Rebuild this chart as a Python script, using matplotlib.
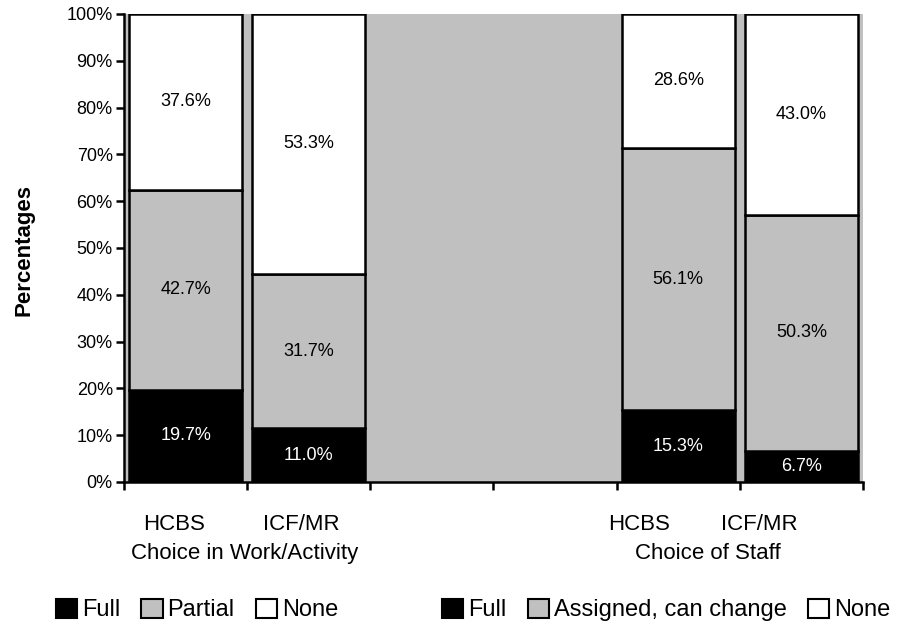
import matplotlib
matplotlib.use("Agg")
import matplotlib.pyplot as plt
from matplotlib.patches import Patch
import numpy as np

plt.rcParams['font.family'] = ['Liberation Sans', 'DejaVu Sans']

# dados (valores em %)
slots = [0, 1, 4, 5]
sites = ["HCBS", "ICF/MR", "HCBS", "ICF/MR"]
groups = ["Choice in Work/Activity", "Choice of Staff"]
full = [19.7, 11.0, 15.3, 6.7]
partial = [42.7, 31.7, 56.1, 50.3]
none = [37.6, 53.3, 28.6, 43.0]
legend_left = ["Full", "Partial", "None"]
legend_right = ["Full", "Assigned, can change", "None"]
yticks = [0, 10, 20, 30, 40, 50, 60, 70, 80, 90, 100]

black = "#000000"
gray = "#c0c0c0"
white = "#ffffff"

# barras 100% empilhadas
total = np.array(full) + np.array(partial) + np.array(none)
f_n = np.array(full) / total * 100
p_n = np.array(partial) / total * 100
n_n = np.array(none) / total * 100

fig = plt.figure(figsize=(9.03, 6.24), dpi=100)
ax = fig.add_axes([0.1373, 0.2276, 0.8184, 0.75])
ax.set_facecolor(gray)

w = 0.92
ax.bar(slots, f_n, w, color=black, edgecolor=black, linewidth=1.8)
ax.bar(slots, p_n, w, bottom=f_n, color=gray, edgecolor=black, linewidth=1.8)
ax.bar(slots, n_n, w, bottom=f_n + p_n, color=white, edgecolor=black, linewidth=1.8)

for i, x in enumerate(slots):
    ax.text(x, f_n[i] / 2, f"{full[i]:.1f}%", ha="center", va="center",
            color="white", fontsize=13)
    ax.text(x, f_n[i] + p_n[i] / 2, f"{partial[i]:.1f}%", ha="center", va="center",
            color="black", fontsize=13)
    ax.text(x, f_n[i] + p_n[i] + n_n[i] / 2, f"{none[i]:.1f}%", ha="center",
            va="center", color="black", fontsize=13)

ax.set_xlim(-0.5, 5.5)
ax.set_ylim(0, 100)
ax.set_yticks(yticks)
ax.set_yticklabels([f"{t}%" for t in yticks], fontsize=13)
ax.set_xticks(np.arange(-0.5, 6, 1))
ax.set_xticklabels([])
ax.tick_params(axis="both", direction="out", length=6, width=1.8, color="black")
ax.tick_params(axis="y", pad=2)

for s in ["top", "right"]:
    ax.spines[s].set_visible(False)
for s in ["left", "bottom"]:
    ax.spines[s].set_linewidth(1.8)

# rótulos das categorias
trans = ax.get_xaxis_transform()
site_x = [-0.09, 0.94, 3.68, 4.66]
for x, s in zip(site_x, sites):
    ax.text(x, -0.09, s, transform=trans, ha="center", va="center", fontsize=16)
for x, g in zip([0.48, 4.24], groups):
    ax.text(x, -0.152, g, transform=trans, ha="center", va="center", fontsize=16)

fig.text(24 / 903, 0.6, "Percentages", rotation=90, ha="center", va="center",
         fontsize=16, fontweight="bold")

def make_handles(labels):
    cols = [black, gray, white]
    return [Patch(facecolor=c, edgecolor="black", linewidth=1.5, label=l)
            for c, l in zip(cols, labels)]

leg_kw = dict(ncol=3, frameon=False, fontsize=17, handlelength=0.9,
              handleheight=0.85, handletextpad=0.2, columnspacing=0.9,
              borderpad=0.1, borderaxespad=0)
fig.legend(handles=make_handles(legend_left), loc="center",
           bbox_to_anchor=(197 / 903, 1 - 610 / 624), **leg_kw)
fig.legend(handles=make_handles(legend_right), loc="center",
           bbox_to_anchor=(666 / 903, 1 - 610 / 624), **leg_kw)

plt.savefig("out.png", dpi=100)
